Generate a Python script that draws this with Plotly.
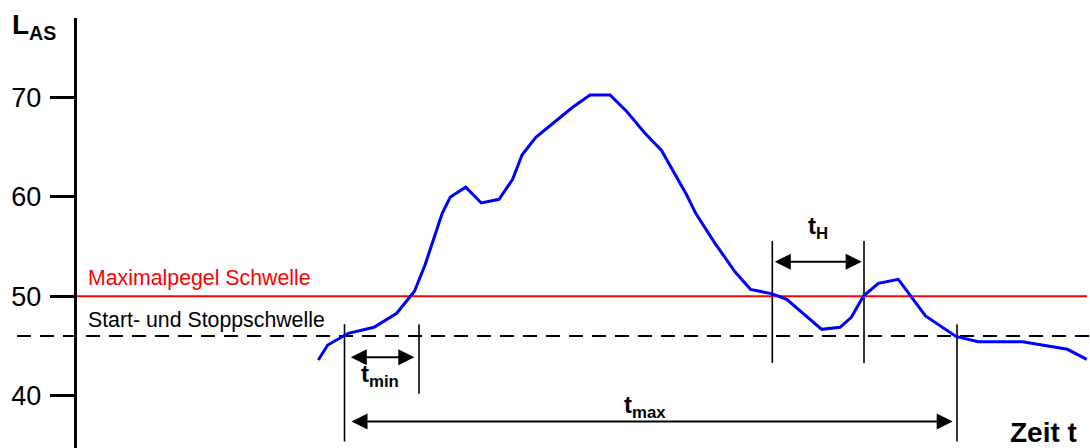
import plotly.graph_objects as go

# ---- data ----
# time (arbitrary units, 1 unit = 10 px) and sound level L_AS (dB)
time = [24.33, 25.27, 27.33, 29.9, 32.17, 33.95, 35.0, 36.72, 37.53, 39.07,
        40.63, 42.4, 43.75, 44.7, 46.08, 49.73, 51.5, 53.5, 55.2, 56.95,
        58.65, 61.17, 62.07, 64.0, 66.0, 67.55, 69.73, 71.17, 74.67, 76.5,
        77.63, 78.85, 80.33, 82.33, 85.05, 88.1, 90.33, 94.75, 99.25, 101.17]
level = [43.59, 45.10, 46.28, 46.88, 48.29, 50.51, 53.15, 58.35, 59.99, 60.97,
         59.39, 59.76, 61.75, 64.22, 66.0, 68.99, 70.25, 70.25, 68.57, 66.45,
         64.67, 60.19, 58.35, 55.33, 52.47, 50.70, 50.25, 49.70, 46.68, 46.88,
         47.89, 50.03, 51.31, 51.71, 48.02, 45.96, 45.43, 45.43, 44.67, 43.66]

max_threshold = 50.0          # Maximalpegel Schwelle
start_stop_threshold = 46.0   # Start- und Stoppschwelle
y_ticks = [40, 50, 60, 70]
y_tick_labels = ["40", "50", "60", "70"]

# marker times
t_start = 26.95
t_min_end = 34.4
t_h_start = 69.73
t_h_end = 78.9
t_stop = 88.2

# vertical marker extents (level units)
marker_times = [t_start, t_min_end, t_h_start, t_h_end, t_stop]
marker_top = [47.2, 47.2, 55.56, 55.56, 47.2]
marker_bottom = [35.4, 40.2, 43.3, 43.3, 35.4]

# double arrows: (from, to, level)
arrow_tmin = (27.43, 33.93, 43.86)
arrow_tmax = (27.5, 87.77, 37.4)
arrow_th = (69.83, 78.67, 53.48)

X_RANGE = [-7.5, 101.5]
Y_RANGE = [34.74, 78.0]
FONT = "Liberation Sans, Arial, sans-serif"

fig = go.Figure()

# threshold lines
fig.add_trace(go.Scatter(x=[-5.8, X_RANGE[1]], y=[start_stop_threshold] * 2, mode="lines",
                         line=dict(color="black", width=2, dash="14px,9px"),
                         hoverinfo="skip", showlegend=False, cliponaxis=False))
fig.add_trace(go.Scatter(x=[0, 101.2], y=[max_threshold] * 2, mode="lines",
                         line=dict(color="#ff0000", width=2),
                         hoverinfo="skip", showlegend=False))

# vertical markers
for tm, top, bot in zip(marker_times, marker_top, marker_bottom):
    fig.add_trace(go.Scatter(x=[tm, tm], y=[bot, top], mode="lines",
                             line=dict(color="black", width=1.6),
                             hoverinfo="skip", showlegend=False, cliponaxis=False))

# level curve
fig.add_trace(go.Scatter(x=time, y=level, mode="lines",
                         line=dict(color="#0000ff", width=3),
                         hoverinfo="skip", showlegend=False))

annotations = []
for a, b, yv in (arrow_tmin, arrow_tmax, arrow_th):
    annotations.append(dict(x=b, y=yv, ax=a, ay=yv, xref="x", yref="y",
                            axref="x", ayref="y", text="", showarrow=True,
                            arrowhead=2, startarrowhead=2, arrowside="end+start",
                            arrowsize=1.6, startarrowsize=1.6, arrowwidth=2,
                            arrowcolor="black", standoff=0, startstandoff=0))

def label(x, y, text, size, color="black", xanchor="left", yanchor="middle"):
    annotations.append(dict(x=x, y=y, xref="x", yref="y", text=text, showarrow=False,
                            xanchor=xanchor, yanchor=yanchor,
                            font=dict(family=FONT, size=size, color=color)))

label(1.1, 51.84, "Maximalpegel Schwelle", 21.3, color="#ff0000")
label(1.1, 47.62, "Start- und Stoppschwelle", 21.3)
label(-6.5, 77.1, "<b>L<sub>AS</sub></b>", 28)
label(28.4, 42.0, "<b>t<sub>min</sub></b>", 24)
label(54.7, 38.9, "<b>t<sub>max</sub></b>", 24)
label(73.1, 56.9, "<b>t<sub>H</sub></b>", 24)
label(100.4, 36.25, "<b>Zeit t</b>", 28, xanchor="right")

fig.update_layout(
    width=1090, height=448,
    margin=dict(l=0, r=0, t=18, b=0),
    paper_bgcolor="white", plot_bgcolor="white",
    showlegend=False,
    annotations=annotations,
    font=dict(family=FONT, color="black"),
    xaxis=dict(range=X_RANGE, visible=False, showgrid=False, zeroline=False),
    yaxis=dict(range=Y_RANGE, anchor="free", position=74.5 / 1090,
               showline=True, linecolor="black", linewidth=2.5,
               ticks="outside", ticklen=24, tickwidth=2.5, tickcolor="black",
               tickvals=y_ticks, ticktext=y_tick_labels, ticklabelstandoff=3,
               tickfont=dict(family=FONT, size=27, color="black"),
               showgrid=False, zeroline=False),
)

fig.write_html("out.html", config={"displayModeBar": False},
               post_script="document.body.style.margin='0';document.body.style.overflow='hidden';")
